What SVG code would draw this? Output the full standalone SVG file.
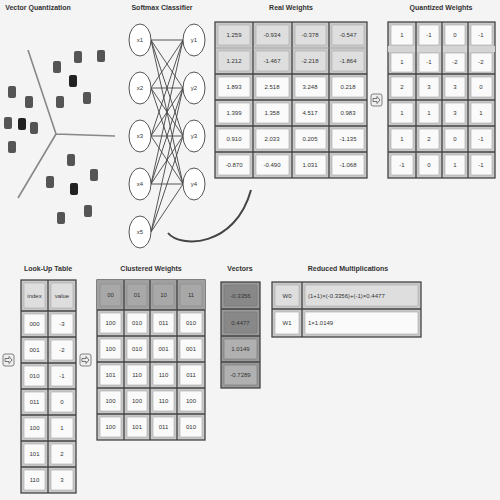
<svg xmlns="http://www.w3.org/2000/svg" width="500" height="500" viewBox="0 0 500 500">
<style>
.t{font-family:"Liberation Sans",Arial,sans-serif;font-size:7px;font-weight:bold;fill:#333;text-anchor:middle}
.c{font-family:"Liberation Sans",Arial,sans-serif;font-size:6px;fill:#333;text-anchor:middle;dominant-baseline:central}
.grid{fill:#c8c8c8;stroke:#444;stroke-width:1.3}
.cell{fill:#fafafa;stroke:#aaa;stroke-width:0.6}
.sh{fill:#dedede;stroke:#aaa;stroke-width:0.6}
.dk{fill:#a8a8a8;stroke:#888;stroke-width:0.6}
.gl{stroke:#444;stroke-width:1.3}
.pt{fill:#555}
.pd{fill:#222}
.sep{stroke:#888;stroke-width:1.6;fill:none}
.nd{fill:#fff;stroke:#555;stroke-width:1}
.ln{stroke:#444;stroke-width:0.9}
.ic{fill:#eee;stroke:#666;stroke-width:0.8}
</style>
<rect width="500" height="500" fill="#f4f4f4"/>
<defs>
<g id="arrowicon"><rect x="0" y="0" width="11" height="12" rx="2" class="ic"/><path d="M2,4.5 H6 V2.5 L9,6 L6,9.5 V7.5 H2 Z" fill="none" stroke="#555" stroke-width="0.8"/></g>
</defs>

<g id="vq">
<text class="t" x="38" y="10">Vector Quantization</text>
<path class="sep" d="M28,50 L56,134 L115,136 M56,134 L18,198"/>
<rect class="pt" x="74" y="51" width="8" height="12" rx="2"/>
<rect class="pt" x="97" y="50" width="8" height="12" rx="2"/>
<rect class="pt" x="53" y="61" width="8" height="12" rx="2"/>
<rect class="pd" x="69" y="75" width="8" height="12" rx="2"/>
<rect class="pt" x="8" y="86" width="8" height="12" rx="2"/>
<rect class="pt" x="25" y="96" width="8" height="12" rx="2"/>
<rect class="pt" x="56" y="96" width="8" height="12" rx="2"/>
<rect class="pt" x="83" y="92" width="8" height="12" rx="2"/>
<rect class="pt" x="4" y="117" width="8" height="12" rx="2"/>
<rect class="pd" x="18" y="118" width="8" height="12" rx="2"/>
<rect class="pt" x="30" y="122" width="8" height="12" rx="2"/>
<rect class="pt" x="8" y="141" width="8" height="12" rx="2"/>
<rect class="pt" x="67" y="154" width="8" height="12" rx="2"/>
<rect class="pt" x="90" y="169" width="8" height="12" rx="2"/>
<rect class="pt" x="46" y="176" width="8" height="12" rx="2"/>
<rect class="pd" x="70" y="183" width="8" height="12" rx="2"/>
<rect class="pt" x="84" y="205" width="8" height="12" rx="2"/>
<rect class="pt" x="57" y="212" width="8" height="12" rx="2"/>
</g>

<g id="connectors">
<g class="ln">
<line x1="151" y1="40" x2="183" y2="40"/><line x1="151" y1="40" x2="183" y2="88"/><line x1="151" y1="40" x2="183" y2="136"/><line x1="151" y1="40" x2="183" y2="184"/>
<line x1="151" y1="88" x2="183" y2="40"/><line x1="151" y1="88" x2="183" y2="88"/><line x1="151" y1="88" x2="183" y2="136"/><line x1="151" y1="88" x2="183" y2="184"/>
<line x1="151" y1="136" x2="183" y2="40"/><line x1="151" y1="136" x2="183" y2="88"/><line x1="151" y1="136" x2="183" y2="136"/><line x1="151" y1="136" x2="183" y2="184"/>
<line x1="151" y1="184" x2="183" y2="40"/><line x1="151" y1="184" x2="183" y2="88"/><line x1="151" y1="184" x2="183" y2="136"/><line x1="151" y1="184" x2="183" y2="184"/>
<line x1="151" y1="232" x2="183" y2="88"/><line x1="151" y1="232" x2="183" y2="136"/><line x1="151" y1="232" x2="183" y2="184"/>
</g>
<path d="M168,233 C180,248 235,248 251,190" fill="none" stroke="#444" stroke-width="2"/>
<use href="#arrowicon" x="371" y="94"/>
<use href="#arrowicon" x="3" y="354"/>
<use href="#arrowicon" x="80" y="354"/>
</g>

<g id="softmax">
<text class="t" x="162" y="10">Softmax Classifier</text>
<ellipse class="nd" cx="140" cy="40" rx="11" ry="16"/><ellipse class="nd" cx="140" cy="88" rx="11" ry="16"/>
<ellipse class="nd" cx="140" cy="136" rx="11" ry="16"/><ellipse class="nd" cx="140" cy="184" rx="11" ry="16"/>
<ellipse class="nd" cx="140" cy="232" rx="11" ry="16"/>
<ellipse class="nd" cx="194" cy="40" rx="11" ry="16"/><ellipse class="nd" cx="194" cy="88" rx="11" ry="16"/>
<ellipse class="nd" cx="194" cy="136" rx="11" ry="16"/><ellipse class="nd" cx="194" cy="184" rx="11" ry="16"/>
<text class="c" x="140" y="40">x1</text><text class="c" x="140" y="88">x2</text><text class="c" x="140" y="136">x3</text><text class="c" x="140" y="184">x4</text><text class="c" x="140" y="232">x5</text>
<text class="c" x="194" y="40">y1</text><text class="c" x="194" y="88">y2</text><text class="c" x="194" y="136">y3</text><text class="c" x="194" y="184">y4</text>
</g>

<g id="realweights">
<text class="t" x="291" y="10">Real Weights</text>
<rect class="grid" x="215" y="22" width="152" height="156"/>
<g>
<rect class="sh" x="218" y="25" width="32" height="20" rx="1"/><rect class="sh" x="256" y="25" width="33" height="20" rx="1"/><rect class="sh" x="295" y="25" width="31" height="20" rx="1"/><rect class="sh" x="332" y="25" width="32" height="20" rx="1"/>
<rect class="sh" x="218" y="51" width="32" height="20" rx="1"/><rect class="sh" x="256" y="51" width="33" height="20" rx="1"/><rect class="sh" x="295" y="51" width="31" height="20" rx="1"/><rect class="sh" x="332" y="51" width="32" height="20" rx="1"/>
<rect class="cell" x="218" y="77" width="32" height="20" rx="1"/><rect class="cell" x="256" y="77" width="33" height="20" rx="1"/><rect class="cell" x="295" y="77" width="31" height="20" rx="1"/><rect class="cell" x="332" y="77" width="32" height="20" rx="1"/>
<rect class="cell" x="218" y="103" width="32" height="20" rx="1"/><rect class="cell" x="256" y="103" width="33" height="20" rx="1"/><rect class="cell" x="295" y="103" width="31" height="20" rx="1"/><rect class="cell" x="332" y="103" width="32" height="20" rx="1"/>
<rect class="cell" x="218" y="129" width="32" height="20" rx="1"/><rect class="cell" x="256" y="129" width="33" height="20" rx="1"/><rect class="cell" x="295" y="129" width="31" height="20" rx="1"/><rect class="cell" x="332" y="129" width="32" height="20" rx="1"/>
<rect class="cell" x="218" y="155" width="32" height="20" rx="1"/><rect class="cell" x="256" y="155" width="33" height="20" rx="1"/><rect class="cell" x="295" y="155" width="31" height="20" rx="1"/><rect class="cell" x="332" y="155" width="32" height="20" rx="1"/>
</g>
<path class="gl" d="M253,22 V178 M292,22 V178 M329,22 V178 M215,74 H367 M215,100 H367 M215,126 H367 M215,152 H367"/>
<path d="M215,48 H367" stroke="#999" stroke-width="0.6"/>
<text class="c" x="234" y="35">1.259</text><text class="c" x="272" y="35">-0.934</text><text class="c" x="310" y="35">-0.378</text><text class="c" x="348" y="35">-0.547</text>
<text class="c" x="234" y="61">1.212</text><text class="c" x="272" y="61">-1.467</text><text class="c" x="310" y="61">-2.218</text><text class="c" x="348" y="61">-1.864</text>
<text class="c" x="234" y="87">1.893</text><text class="c" x="272" y="87">2.518</text><text class="c" x="310" y="87">3.248</text><text class="c" x="348" y="87">0.218</text>
<text class="c" x="234" y="113">1.399</text><text class="c" x="272" y="113">1.358</text><text class="c" x="310" y="113">4.517</text><text class="c" x="348" y="113">0.983</text>
<text class="c" x="234" y="139">0.910</text><text class="c" x="272" y="139">2.033</text><text class="c" x="310" y="139">0.205</text><text class="c" x="348" y="139">-1.135</text>
<text class="c" x="234" y="165">-0.870</text><text class="c" x="272" y="165">-0.490</text><text class="c" x="310" y="165">1.031</text><text class="c" x="348" y="165">-1.068</text>
</g>

<g id="quantized">
<text class="t" x="441" y="10">Quantized Weights</text>
<rect class="grid" x="388" y="22" width="107" height="156"/>
<g>
<rect class="cell" x="391" y="25" width="22" height="20" rx="1"/><rect class="cell" x="419" y="25" width="20" height="20" rx="1"/><rect class="cell" x="445" y="25" width="20" height="20" rx="1"/><rect class="cell" x="471" y="25" width="21" height="20" rx="1"/>
<rect class="cell" x="391" y="53" width="22" height="19" rx="1"/><rect class="cell" x="419" y="53" width="20" height="19" rx="1"/><rect class="cell" x="445" y="53" width="20" height="19" rx="1"/><rect class="cell" x="471" y="53" width="21" height="19" rx="1"/>
<rect class="cell" x="391" y="77" width="22" height="20" rx="1"/><rect class="cell" x="419" y="77" width="20" height="20" rx="1"/><rect class="cell" x="445" y="77" width="20" height="20" rx="1"/><rect class="cell" x="471" y="77" width="21" height="20" rx="1"/>
<rect class="cell" x="391" y="103" width="22" height="20" rx="1"/><rect class="cell" x="419" y="103" width="20" height="20" rx="1"/><rect class="cell" x="445" y="103" width="20" height="20" rx="1"/><rect class="cell" x="471" y="103" width="21" height="20" rx="1"/>
<rect class="cell" x="391" y="129" width="22" height="20" rx="1"/><rect class="cell" x="419" y="129" width="20" height="20" rx="1"/><rect class="cell" x="445" y="129" width="20" height="20" rx="1"/><rect class="cell" x="471" y="129" width="21" height="20" rx="1"/>
<rect class="cell" x="391" y="155" width="22" height="20" rx="1"/><rect class="cell" x="419" y="155" width="20" height="20" rx="1"/><rect class="cell" x="445" y="155" width="20" height="20" rx="1"/><rect class="cell" x="471" y="155" width="21" height="20" rx="1"/>
</g>
<rect x="388" y="46" width="107" height="6" fill="#d4d4d4"/>
<path class="gl" d="M416,22 V178 M442,22 V178 M468,22 V178 M388,74 H495 M388,100 H495 M388,126 H495 M388,152 H495"/>
<text class="c" x="402" y="35">1</text><text class="c" x="429" y="35">-1</text><text class="c" x="455" y="35">0</text><text class="c" x="481" y="35">-1</text>
<text class="c" x="402" y="62">1</text><text class="c" x="429" y="62">-1</text><text class="c" x="455" y="62">-2</text><text class="c" x="481" y="62">-2</text>
<text class="c" x="402" y="87">2</text><text class="c" x="429" y="87">3</text><text class="c" x="455" y="87">3</text><text class="c" x="481" y="87">0</text>
<text class="c" x="402" y="113">1</text><text class="c" x="429" y="113">1</text><text class="c" x="455" y="113">3</text><text class="c" x="481" y="113">1</text>
<text class="c" x="402" y="139">1</text><text class="c" x="429" y="139">2</text><text class="c" x="455" y="139">0</text><text class="c" x="481" y="139">-1</text>
<text class="c" x="402" y="165">-1</text><text class="c" x="429" y="165">0</text><text class="c" x="455" y="165">1</text><text class="c" x="481" y="165">-1</text>
</g>

<g id="lut">
<text class="t" x="48" y="271">Look-Up Table</text>
<rect class="grid" x="21" y="280" width="55" height="213"/>
<rect class="sh" x="24" y="283" width="21" height="25" rx="1"/><rect class="sh" x="51" y="283" width="22" height="25" rx="1"/>
<g>
<rect class="cell" x="24" y="314" width="21" height="20" rx="1"/><rect class="cell" x="51" y="314" width="22" height="20" rx="1"/>
<rect class="cell" x="24" y="340" width="21" height="20" rx="1"/><rect class="cell" x="51" y="340" width="22" height="20" rx="1"/>
<rect class="cell" x="24" y="366" width="21" height="20" rx="1"/><rect class="cell" x="51" y="366" width="22" height="20" rx="1"/>
<rect class="cell" x="24" y="392" width="21" height="20" rx="1"/><rect class="cell" x="51" y="392" width="22" height="20" rx="1"/>
<rect class="cell" x="24" y="418" width="21" height="20" rx="1"/><rect class="cell" x="51" y="418" width="22" height="20" rx="1"/>
<rect class="cell" x="24" y="444" width="21" height="20" rx="1"/><rect class="cell" x="51" y="444" width="22" height="20" rx="1"/>
<rect class="cell" x="24" y="470" width="21" height="20" rx="1"/><rect class="cell" x="51" y="470" width="22" height="20" rx="1"/>
</g>
<path class="gl" d="M48,280 V493 M21,311 H76 M21,337 H76 M21,363 H76 M21,389 H76 M21,415 H76 M21,441 H76 M21,467 H76"/>
<text class="c" x="34.5" y="296">index</text><text class="c" x="62" y="296">value</text>
<text class="c" x="34.5" y="324">000</text><text class="c" x="62" y="324">-3</text>
<text class="c" x="34.5" y="350">001</text><text class="c" x="62" y="350">-2</text>
<text class="c" x="34.5" y="376">010</text><text class="c" x="62" y="376">-1</text>
<text class="c" x="34.5" y="402">011</text><text class="c" x="62" y="402">0</text>
<text class="c" x="34.5" y="428">100</text><text class="c" x="62" y="428">1</text>
<text class="c" x="34.5" y="454">101</text><text class="c" x="62" y="454">2</text>
<text class="c" x="34.5" y="480">110</text><text class="c" x="62" y="480">3</text>
</g>

<g id="clustered">
<text class="t" x="151" y="271">Clustered Weights</text>
<rect class="grid" x="97" y="280" width="108" height="160" fill="#c4c4c4"/>
<rect x="97" y="280" width="108" height="30" fill="#a0a0a0"/>
<g>
<rect class="dk" x="100" y="284" width="21" height="22" rx="1"/><rect class="dk" x="127" y="284" width="20" height="22" rx="1"/><rect class="dk" x="153" y="284" width="21" height="22" rx="1"/><rect class="dk" x="180" y="284" width="22" height="22" rx="1"/>
<rect class="cell" x="100" y="313" width="21" height="20" rx="1"/><rect class="cell" x="127" y="313" width="20" height="20" rx="1"/><rect class="cell" x="153" y="313" width="21" height="20" rx="1"/><rect class="cell" x="180" y="313" width="22" height="20" rx="1"/>
<rect class="cell" x="100" y="339" width="21" height="20" rx="1"/><rect class="cell" x="127" y="339" width="20" height="20" rx="1"/><rect class="cell" x="153" y="339" width="21" height="20" rx="1"/><rect class="cell" x="180" y="339" width="22" height="20" rx="1"/>
<rect class="cell" x="100" y="365" width="21" height="20" rx="1"/><rect class="cell" x="127" y="365" width="20" height="20" rx="1"/><rect class="cell" x="153" y="365" width="21" height="20" rx="1"/><rect class="cell" x="180" y="365" width="22" height="20" rx="1"/>
<rect class="cell" x="100" y="391" width="21" height="20" rx="1"/><rect class="cell" x="127" y="391" width="20" height="20" rx="1"/><rect class="cell" x="153" y="391" width="21" height="20" rx="1"/><rect class="cell" x="180" y="391" width="22" height="20" rx="1"/>
<rect class="cell" x="100" y="417" width="21" height="20" rx="1"/><rect class="cell" x="127" y="417" width="20" height="20" rx="1"/><rect class="cell" x="153" y="417" width="21" height="20" rx="1"/><rect class="cell" x="180" y="417" width="22" height="20" rx="1"/>
</g>
<path class="gl" d="M124,280 V440 M150,280 V440 M177,280 V440 M97,310 H205 M97,336 H205 M97,362 H205 M97,388 H205 M97,414 H205"/>
<text class="c" x="110.5" y="295">00</text><text class="c" x="137" y="295">01</text><text class="c" x="163.5" y="295">10</text><text class="c" x="191" y="295">11</text>
<text class="c" x="110.5" y="323">100</text><text class="c" x="137" y="323">010</text><text class="c" x="163.5" y="323">011</text><text class="c" x="191" y="323">010</text>
<text class="c" x="110.5" y="349">100</text><text class="c" x="137" y="349">010</text><text class="c" x="163.5" y="349">001</text><text class="c" x="191" y="349">001</text>
<text class="c" x="110.5" y="375">101</text><text class="c" x="137" y="375">110</text><text class="c" x="163.5" y="375">110</text><text class="c" x="191" y="375">011</text>
<text class="c" x="110.5" y="401">100</text><text class="c" x="137" y="401">100</text><text class="c" x="163.5" y="401">110</text><text class="c" x="191" y="401">100</text>
<text class="c" x="110.5" y="427">100</text><text class="c" x="137" y="427">101</text><text class="c" x="163.5" y="427">011</text><text class="c" x="191" y="427">010</text>
</g>

<g id="vectors">
<text class="t" x="240" y="271">Vectors</text>
<rect x="221" y="282" width="39" height="106" fill="#999" stroke="#444" stroke-width="1.3"/>
<rect x="224" y="285" width="33" height="21" rx="1" fill="#888" stroke="#777" stroke-width="0.6"/>
<rect x="224" y="312" width="33" height="21" rx="1" fill="#888" stroke="#777" stroke-width="0.6"/>
<rect x="224" y="339" width="33" height="20" rx="1" fill="#b0b0b0" stroke="#777" stroke-width="0.6"/>
<rect x="224" y="365" width="33" height="20" rx="1" fill="#b0b0b0" stroke="#777" stroke-width="0.6"/>
<path class="gl" d="M221,309 H260 M221,336 H260 M221,362 H260"/>
<text class="c" x="240.5" y="296">-0.3356</text>
<text class="c" x="240.5" y="323">0.4477</text>
<text class="c" x="240.5" y="349">1.0149</text>
<text class="c" x="240.5" y="375">-0.7289</text>
</g>

<g id="reduced">
<text class="t" x="348" y="271">Reduced Multiplications</text>
<rect class="grid" x="272" y="282" width="149" height="55"/>
<rect class="sh" x="275" y="285" width="24" height="21" rx="1"/><rect class="sh" x="305" y="285" width="113" height="21" rx="1"/>
<rect class="cell" x="275" y="312" width="24" height="22" rx="1"/><rect class="cell" x="305" y="312" width="113" height="22" rx="1"/>
<path class="gl" d="M302,282 V337 M272,309 H421"/>
<text class="c" x="287" y="296">W0</text>
<text x="308" y="296" class="c" style="text-anchor:start">(1+1)×(-0.3356)+(-1)×0.4477</text>
<text class="c" x="287" y="323">W1</text>
<text x="308" y="323" class="c" style="text-anchor:start">1×1.0149</text>
</g>
</svg>
